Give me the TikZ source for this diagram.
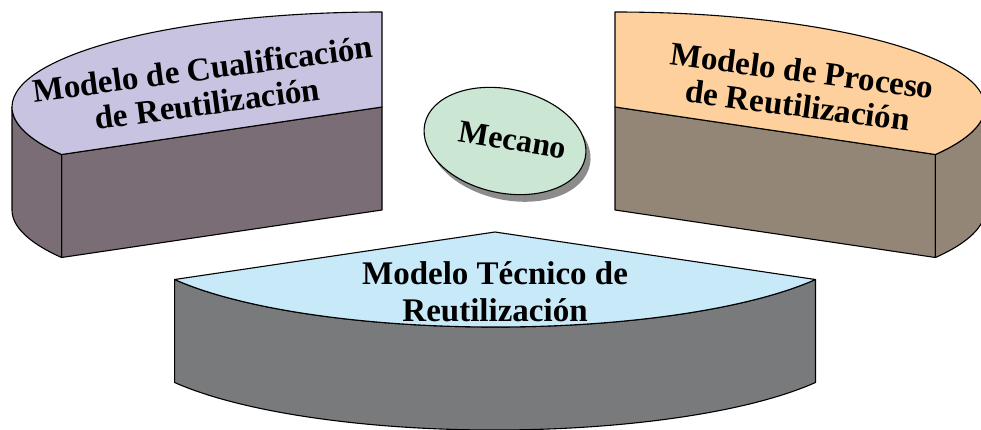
\documentclass[tikz,border=0pt]{standalone}
\usepackage{fontspec}
\setmainfont{Liberation Serif}
\usetikzlibrary{positioning}
\definecolor{cuatop}{HTML}{C7C3E0}
\definecolor{cuaside}{HTML}{7A6D75}
\definecolor{protop}{HTML}{FDD09D}
\definecolor{proside}{HTML}{938677}
\definecolor{tectop}{HTML}{C8E9F8}
\definecolor{tecside}{HTML}{797A7C}
\definecolor{mecfill}{HTML}{CBE6D3}
\definecolor{mecshadow}{HTML}{8C8C8C}

\begin{document}
\begin{tikzpicture}[
  x=1pt, y=1pt,
  face/.style={draw=black, line width=1.1pt, line join=round},
  rim/.style={x radius=370pt, y radius=95pt},
  lbl/.style={font=\fontsize{33}{35}\selectfont\bfseries, align=center, inner sep=0pt}
]
\useasboundingbox (0,0) rectangle (981,429);
% ---------------- cualificacion ----------------
\coordinate (cua) at (382,322);
\draw[face, fill=cuaside] (cua) -- ++(-320.4,-47.5) -- ++(0,-103) -- ++(320.4,47.5) -- cycle;
\draw[face, fill=cuaside] (cua) ++(-370,0) arc[start angle=180, end angle=210, rim]
  -- ++(0,-103) arc[start angle=210, end angle=180, rim] -- cycle;
\draw[face, fill=cuatop] (cua) -- ++(0,95) arc[start angle=90, end angle=210, rim] -- cycle;
\node[lbl, rotate=7.5] (cualbl) at (205,343) {Modelo de Cualificación\\de Reutilización};
% ---------------- proceso ----------------
\coordinate (pro) at (615,322);
\draw[face, fill=proside] (pro) -- ++(320.4,-47.5) -- ++(0,-103) -- ++(-320.4,47.5) -- cycle;
\draw[face, fill=proside] (pro) ++(370,0) arc[start angle=0, end angle=-30, rim]
  -- ++(0,-103) arc[start angle=-30, end angle=0, rim] -- cycle;
\draw[face, fill=protop] (pro) -- ++(0,95) arc[start angle=90, end angle=-30, rim] -- cycle;
\node[lbl, rotate=-7.5] (prolbl) at (800,341) {Modelo de Proceso\\de Reutilización};
% ---------------- tecnico ----------------
\coordinate (tec) at (495,197);
\draw[face, fill=tecside] (tec) ++(-320.4,-47.5) arc[start angle=210, end angle=330, rim]
  -- ++(0,-103) arc[start angle=330, end angle=210, rim] -- cycle;
\draw[face, fill=tectop] (tec) -- ++(-320.4,-47.5) arc[start angle=210, end angle=330, rim] -- cycle;
\node[lbl, font=\fontsize{33}{37}\selectfont\bfseries] (teclbl) at (495,137) {Modelo Técnico de\\Reutilización};
% ---------------- mecano ----------------
\begin{scope}[shift={(505,288)}, rotate=-12]
  \fill[mecshadow] (6,-6) ellipse[x radius=82pt, y radius=52pt];
  \draw[face, fill=mecfill] (0,0) ellipse[x radius=82pt, y radius=52pt];
\end{scope}
\node[lbl, font=\fontsize{32}{35}\selectfont\bfseries, rotate=-9.5] (meclbl) at (513,289) {Mecano};
\end{tikzpicture}
\end{document}
